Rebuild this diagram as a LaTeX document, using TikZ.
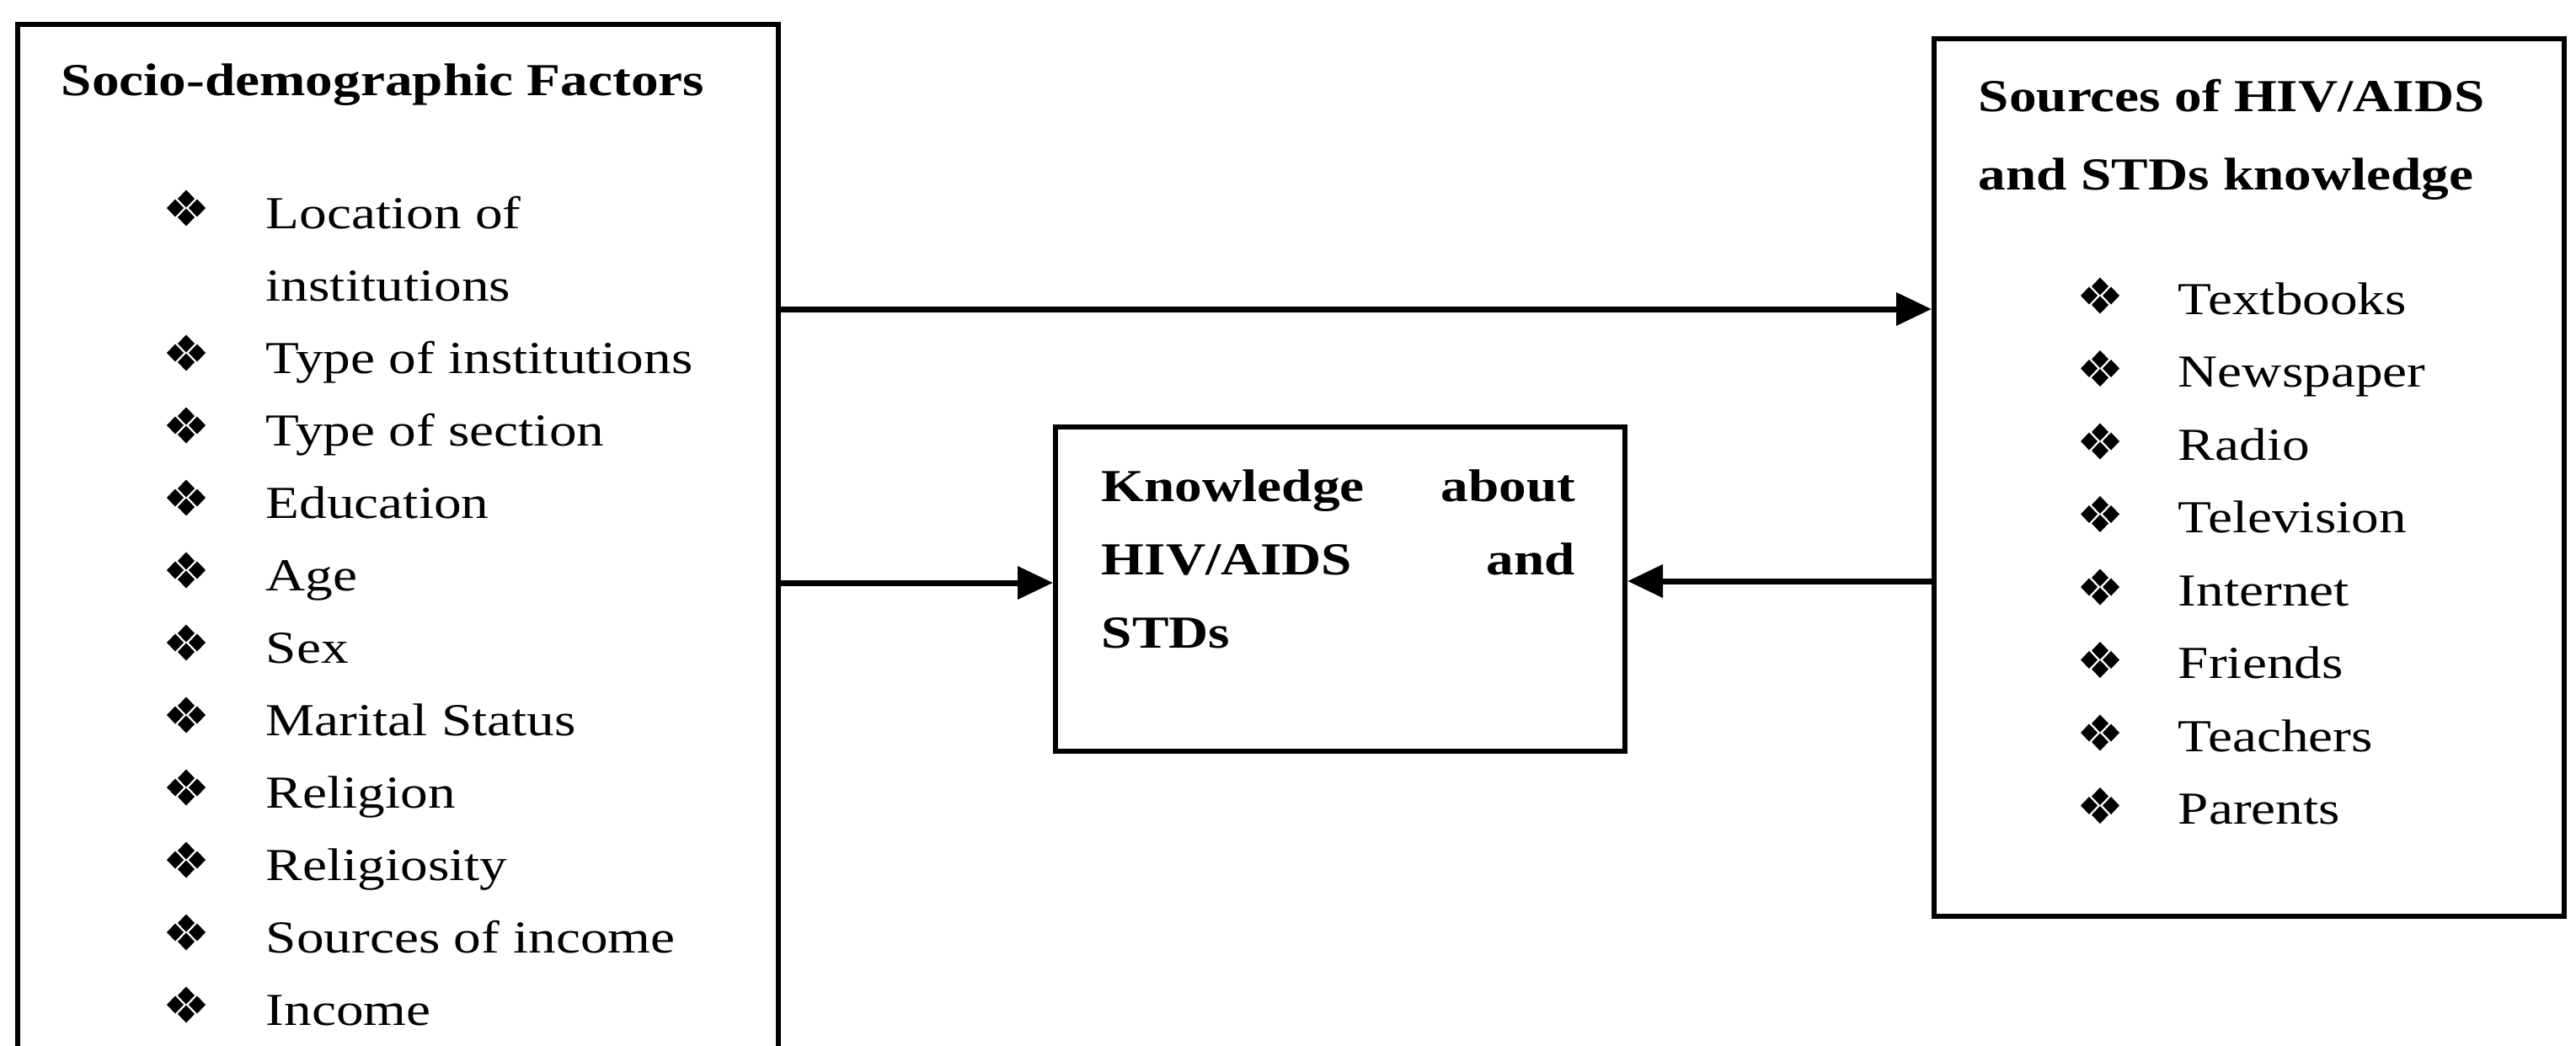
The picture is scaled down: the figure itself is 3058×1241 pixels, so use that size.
\documentclass[tikz,border=0pt]{standalone}
\usepackage{fontspec}
\setmainfont{Liberation Serif}[FakeStretch=1.2]
\usetikzlibrary{arrows.meta}
\begin{document}
\begin{tikzpicture}[x=0.25pt,y=-0.25pt,
  boxst/.style={draw=black,line width=1.5pt,inner sep=0pt,anchor=north west},
  txt/.style={anchor=base west,inner sep=0pt,font=\fontsize{13.6pt}{16pt}\selectfont},
  hd/.style={txt,font=\fontsize{13.6pt}{16pt}\selectfont\bfseries},
  arr/.style={line width=1.75pt,-{Triangle[length=10.5pt,width=9.5pt]}},
  quadbullet/.pic={\foreach \dx/\dy in {0/-11,0/11,-13/0,13/0}{\fill (\dx,\dy) +(0,-10.5) -- +(10,0) -- +(0,10.5) -- +(-10,0) -- cycle;}}]
\useasboundingbox (0,0) rectangle (3058,1241);
\clip (0,0) rectangle (3058,1241);
\fill[white] (0,0) rectangle (3058,1241);
% boxes
\node[boxst,minimum width=225.75pt,minimum height=360pt] (left) at (18,26) {};
\node[boxst,minimum width=187pt,minimum height=260.5pt] (right) at (2293,43) {};
\node[boxst,minimum width=169pt,minimum height=96.25pt] (mid) at (1250,504) {};
% left texts
\node[hd] (lhead) at (72,114) {Socio-demographic Factors};
\node[txt] (l1) at (315,271) {Location of};
\node[txt] (l1b) at (315,357) {institutions};
\node[txt] (l2) at (315,443) {Type of institutions};
\node[txt] (l3) at (315,529) {Type of section};
\node[txt] (l4) at (315,615) {Education};
\node[txt] (l5) at (315,701) {Age};
\node[txt] (l6) at (315,787) {Sex};
\node[txt] (l7) at (315,873) {Marital Status};
\node[txt] (l8) at (315,959) {Religion};
\node[txt] (l9) at (315,1045) {Religiosity};
\node[txt] (l10) at (315,1131) {Sources of income};
\node[txt] (l11) at (315,1217) {Income};
\foreach \yy in {271,443,529,615,701,787,873,959,1045,1131,1217}
  \pic at (221,\yy-24) {quadbullet};
% right texts
\node[hd] (rhead1) at (2348,133) {Sources of HIV/AIDS};
\node[hd] (rhead2) at (2348,225) {and STDs knowledge};
\node[txt] (r1) at (2585,373) {Textbooks};
\node[txt] (r2) at (2585,459.5) {Newspaper};
\node[txt] (r3) at (2585,546) {Radio};
\node[txt] (r4) at (2585,632.5) {Television};
\node[txt] (r5) at (2585,719) {Internet};
\node[txt] (r6) at (2585,805.5) {Friends};
\node[txt] (r7) at (2585,892) {Teachers};
\node[txt] (r8) at (2585,978.5) {Parents};
\foreach \yy in {373,459.5,546,632.5,719,805.5,892,978.5}
  \pic at (2493,\yy-22) {quadbullet};
% middle texts
\node[hd] (k1a) at (1307,595) {Knowledge};
\node[hd,anchor=base east] (k1b) at (1871,595) {about};
\node[hd] (k2a) at (1307,682) {HIV/AIDS};
\node[hd,anchor=base east] (k2b) at (1871,682) {and};
\node[hd] (k3) at (1307,769) {STDs};
% connectors
\draw[arr] (left.east |- 0,367) -- (right.west |- 0,367);
\draw[arr] (left.east |- 0,692) -- (mid.west |- 0,692);
\draw[arr] (right.west |- 0,690) -- (mid.east |- 0,690);
\end{tikzpicture}
\end{document}
